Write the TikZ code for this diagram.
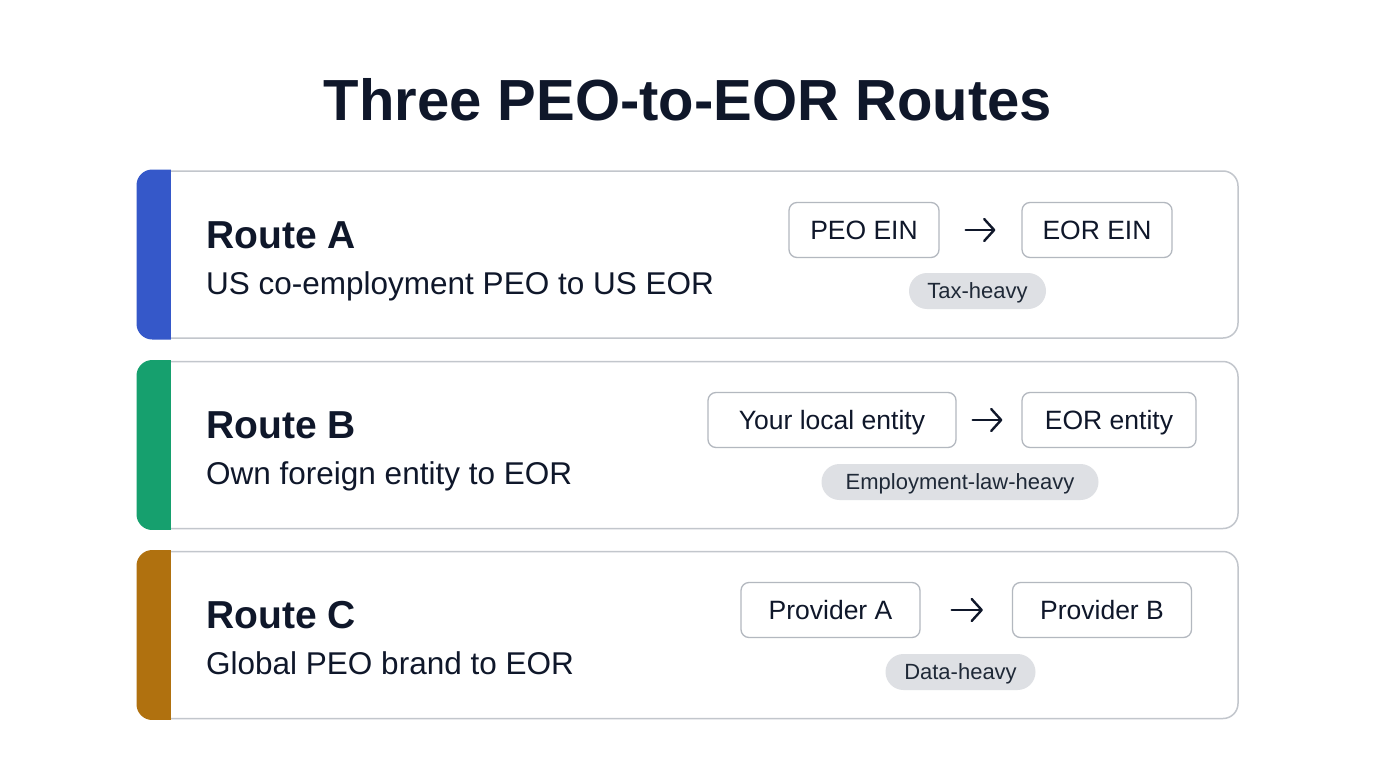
\documentclass[tikz,border=0pt]{standalone}
\usepackage{fontspec}
\setmainfont{Liberation Sans}
\usetikzlibrary{arrows.meta}
\definecolor{ink}{HTML}{0F172A}
\definecolor{cardline}{HTML}{C2C6CC}
\definecolor{boxline}{HTML}{B3B8BF}
\definecolor{tagfill}{HTML}{DEE0E4}
\definecolor{tagink}{HTML}{1F2937}
\definecolor{routeA}{HTML}{3558C9}
\definecolor{routeB}{HTML}{16A06E}
\definecolor{routeC}{HTML}{B0710F}
\tikzset{
  card/.style={draw=cardline, line width=1.5pt, rounded corners=15pt, minimum width=1100pt, minimum height=167pt, inner sep=0pt},
  heading/.style={anchor=base west, inner sep=0pt, text=ink, font=\fontsize{39}{44}\selectfont\bfseries},
  subline/.style={anchor=base west, inner sep=0pt, text=ink, font=\fontsize{31.5}{36}\selectfont},
  entity/.style={draw=boxline, line width=1.3pt, fill=white, rounded corners=8pt, minimum height=55pt, inner sep=0pt, text height=19pt, text depth=0pt, text=ink, font=\fontsize{26.5}{30}\selectfont},
  tag/.style={fill=tagfill, rounded corners=18pt, minimum height=36pt, inner sep=0pt, text height=16pt, text depth=2pt, text=tagink, font=\fontsize{22}{26}\selectfont},
  flow/.style={draw=ink, line width=2.4pt, line cap=round, -{Straight Barb[length=10pt, width=22pt, line cap=round, line join=round]}},
}
\begin{document}
\begin{tikzpicture}[x=1pt,y=-1pt]
\useasboundingbox (0,0) rectangle (1376,768);
\fill[white] (0,0) rectangle (1376,768);

\node[anchor=base, inner sep=0pt, text=ink, font=\fontsize{58}{64}\selectfont\bfseries] (title) at (688,121) {Three PEO-to-EOR Routes};

% cards
\foreach \nm/\yc/\col in {cardA/254.5/routeA, cardB/445/routeB, cardC/635/routeC}{
  \node[card, fill=white] (\nm) at (688,\yc) {};
  \begin{scope}
    \clip[rounded corners=15.75pt] ([shift={(-0.75pt,0.75pt)}]\nm.north west) rectangle ([shift={(0.75pt,-0.75pt)}]\nm.south east);
    \fill[\col] ([shift={(-1pt,1pt)}]\nm.north west) rectangle ([shift={(34pt,-1pt)}]\nm.south west);
  \end{scope}
}

% Route A
\node[heading] (hA) at (206,248) {Route A};
\node[subline] (sA) at (206,294) {US co-employment PEO to US EOR};
\node[entity, minimum width=150pt] (a1) at (864,230) {PEO EIN};
\node[entity, minimum width=150pt] (a2) at (1097,230) {EOR EIN};
\draw[flow, shorten <=26pt, shorten >=26pt] (a1.east) -- (a2.west);
\node[tag, minimum width=137pt] (tA) at (977.5,291) {Tax-heavy};

% Route B
\node[heading] (hB) at (206,438) {Route B};
\node[subline] (sB) at (206,484) {Own foreign entity to EOR};
\node[entity, minimum width=248pt] (b1) at (832,420) {Your local entity};
\node[entity, minimum width=174pt] (b2) at (1109,420) {EOR entity};
\draw[flow, shorten <=16pt, shorten >=19pt] (b1.east) -- (b2.west);
\node[tag, minimum width=277pt] (tB) at (960,482) {Employment-law-heavy};

% Route C
\node[heading] (hC) at (206,628) {Route C};
\node[subline] (sC) at (206,674) {Global PEO brand to EOR};
\node[entity, minimum width=179pt] (c1) at (830.5,610) {Provider A};
\node[entity, minimum width=179pt] (c2) at (1102,610) {Provider B};
\draw[flow, shorten <=31pt, shorten >=29pt] (c1.east) -- (c2.west);
\node[tag, minimum width=150pt] (tC) at (960.5,672) {Data-heavy};
\end{tikzpicture}
\end{document}
